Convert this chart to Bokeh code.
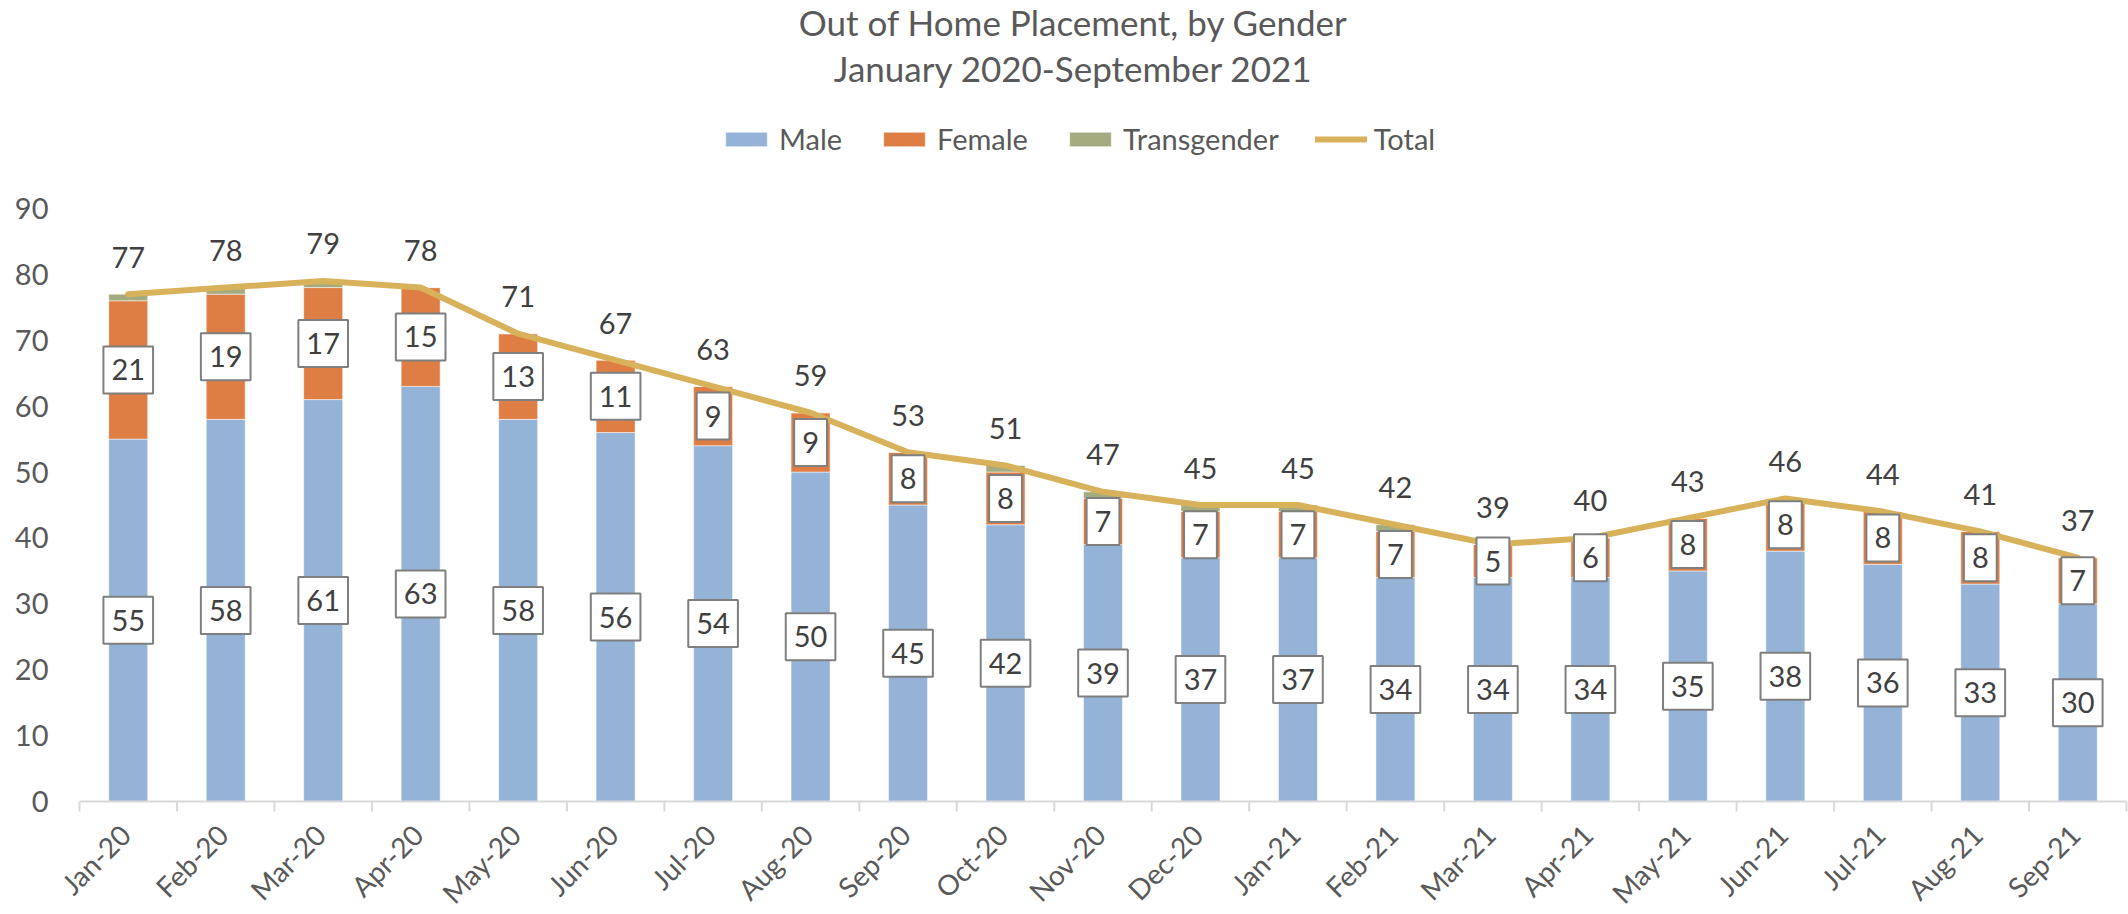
import math
from bokeh.plotting import figure
from bokeh.models import ColumnDataSource, Range1d, Legend, LegendItem, Label
from bokeh.core.properties import value
from bokeh.embed import file_html
from bokeh.resources import INLINE

# ---------------- data ----------------
months = ["Jan-20", "Feb-20", "Mar-20", "Apr-20", "May-20", "Jun-20", "Jul-20",
          "Aug-20", "Sep-20", "Oct-20", "Nov-20", "Dec-20", "Jan-21", "Feb-21",
          "Mar-21", "Apr-21", "May-21", "Jun-21", "Jul-21", "Aug-21", "Sep-21"]
male = [55, 58, 61, 63, 58, 56, 54, 50, 45, 42, 39, 37, 37, 34, 34, 34, 35, 38, 36, 33, 30]
female = [21, 19, 17, 15, 13, 11, 9, 9, 8, 8, 7, 7, 7, 7, 5, 6, 8, 8, 8, 8, 7]
transgender = [1, 1, 1, 0, 0, 0, 0, 0, 0, 1, 1, 1, 1, 1, 0, 0, 0, 0, 0, 0, 0]
total = [77, 78, 79, 78, 71, 67, 63, 59, 53, 51, 47, 45, 45, 42, 39, 40, 43, 46, 44, 41, 37]
y_ticks = [0, 10, 20, 30, 40, 50, 60, 70, 80, 90]

title_line1 = "Out of Home Placement, by Gender"
title_line2 = "January 2020-September 2021"

# ---------------- styles ----------------
FONT = "Lato"
C_MALE = "#95B3D7"
C_FEMALE = "#DE7E45"
C_TRANS = "#A5AB7F"
C_TOTAL = "#D8B15B"
TXT = "#595959"
LBL = "#404040"
AXIS_C = "#D9D9D9"
FS = "29px"

n = len(months)
xs = list(range(n))
src = ColumnDataSource(dict(
    x=xs,
    month=months,
    Male=male,
    Female=female,
    Transgender=transgender,
    total=total,
    male_mid=[m / 2 for m in male],
    female_mid=[m + f / 2 for m, f in zip(male, female)],
    male_lbl=[str(v) for v in male],
    female_lbl=[str(v) for v in female],
    total_lbl=[str(v) for v in total],
))

# layout (pixels); the frame covers the whole figure, the plot area is a sub-rectangle
W, H = 2128, 914
PLOT_L, PLOT_R = 79, 2126     # px of the category axis ends
TOP_PX = 208                  # px from figure top to the value 90
ZERO_PX = 801                 # px from figure top to the value 0
PX_PER_CAT = (PLOT_R - PLOT_L) / n
PX_PER_UNIT = (ZERO_PX - TOP_PX) / 90.0
X_START = -0.5 - PLOT_L / PX_PER_CAT
X_END = n - 0.5 + (W - PLOT_R) / PX_PER_CAT
Y_END = ZERO_PX / PX_PER_UNIT
Y_START = -(H - ZERO_PX) / PX_PER_UNIT

p = figure(width=W, height=H, output_backend="svg", toolbar_location=None,
           x_range=Range1d(X_START, X_END), y_range=Range1d(Y_START, Y_END),
           x_axis_location=None, y_axis_location=None,
           min_border_left=0, min_border_right=0, min_border_top=0,
           min_border_bottom=0, title=None)
p.outline_line_color = None
p.xgrid.visible = False
p.ygrid.visible = False
p.background_fill_color = "white"

bars = p.vbar_stack(["Male", "Female", "Transgender"], x="x", width=0.4, source=src,
                    color=[C_MALE, C_FEMALE, C_TRANS], line_color="white",
                    line_width=1, line_alpha=0.5)
line = p.line(x="x", y="total", source=src, line_color=C_TOTAL, line_width=6,
              line_join="round", line_cap="round")

box_kw = dict(text_align="center", text_baseline="middle", text_font=value(FONT),
              text_font_size=FS, text_color=LBL, background_fill_color="white",
              border_line_color="#7F7F7F", border_line_width=2, padding=(8, 13))
p.text(x="x", y="male_mid", text="male_lbl", source=src, **box_kw)
p.text(x="x", y="female_mid", text="female_lbl", source=src, **box_kw)
p.text(x="x", y="total", text="total_lbl", source=src, y_offset=-37,
       text_align="center", text_baseline="middle", text_font=value(FONT),
       text_font_size=FS, text_color=LBL)

# category axis (line, boundary ticks, rotated labels)
bounds = [i - 0.5 for i in range(n + 1)]
p.segment(x0=[bounds[0]], y0=[0], x1=[bounds[-1]], y1=[0], line_color=AXIS_C, line_width=2)
tick_len = 10 / PX_PER_UNIT
p.segment(x0=bounds, y0=[0] * len(bounds), x1=bounds, y1=[-tick_len] * len(bounds),
          line_color=AXIS_C, line_width=2)
p.text(x="x", y=0, text="month", source=src, angle=math.pi / 4,
       text_align="right", text_baseline="middle", x_offset=-3, y_offset=28,
       text_font=value(FONT), text_font_size="28px", text_color=TXT)

# value axis labels
p.text(x=[bounds[0]] * len(y_ticks), y=y_ticks, text=[str(t) for t in y_ticks],
       x_offset=-31, text_align="right", text_baseline="middle",
       text_font=value(FONT), text_font_size=FS, text_color=TXT)

# title (in the free band above 90)
for txt, top_px in [(title_line1, 21), (title_line2, 67)]:
    p.add_layout(Label(x=1073, y=H - top_px, x_units="screen", y_units="screen",
                       text=txt, text_align="center", text_baseline="middle",
                       text_font=FONT, text_font_size="35px", text_color=TXT))

# legend
legend = Legend(items=[LegendItem(label="Male", renderers=[bars[0]]),
                       LegendItem(label="Female", renderers=[bars[1]]),
                       LegendItem(label="Transgender", renderers=[bars[2]]),
                       LegendItem(label="Total", renderers=[line])],
                orientation="horizontal", location=(720, H - 156),
                glyph_width=52, glyph_height=18, label_standoff=7, spacing=36,
                padding=0, margin=0, border_line_color=None,
                background_fill_alpha=0, label_text_font=FONT,
                label_text_font_size=FS, label_text_color=TXT)
p.add_layout(legend, "center")

open("out.html", "w").write(file_html(p, INLINE))
